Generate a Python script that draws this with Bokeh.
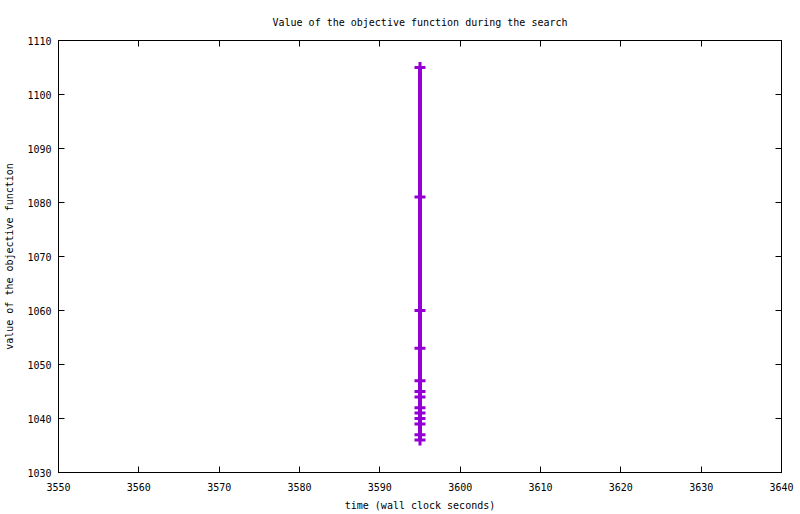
from bokeh.plotting import figure
from bokeh.models import LinearAxis, Range1d, FixedTicker
from bokeh.embed import file_html
from bokeh.resources import INLINE

# data
time_s = [3595, 3595, 3595, 3595, 3595, 3595, 3595, 3595, 3595, 3595, 3595, 3595, 3595]
objective = [1105, 1081, 1060, 1053, 1047, 1045, 1044, 1042, 1041, 1040, 1039, 1037, 1036]
x_ticks = [3550, 3560, 3570, 3580, 3590, 3600, 3610, 3620, 3630, 3640]
y_ticks = [1030, 1040, 1050, 1060, 1070, 1080, 1090, 1100, 1110]

FONT = "DejaVu Sans Mono"
FS = "10px"
COLOR = "#9400D3"

p = figure(width=800, height=514, output_backend="svg", toolbar_location=None,
           x_range=Range1d(3550, 3640), y_range=Range1d(1030, 1110),
           min_border_left=58, min_border_right=19, min_border_top=40, min_border_bottom=42,
           x_axis_label="time (wall clock seconds)",
           y_axis_label="value of the objective function")

p.title.text = "Value of the objective function during the search"
p.title.align = "center"
p.title.text_font = FONT
p.title.text_font_size = FS
p.title.text_font_style = "normal"
p.title.text_color = "black"
p.title.standoff = 25

p.grid.visible = False
p.outline_line_color = "black"
p.outline_line_width = 1
p.background_fill_color = "white"
p.border_fill_color = "white"

p.xaxis.ticker = FixedTicker(ticks=x_ticks)
p.yaxis.ticker = FixedTicker(ticks=y_ticks)

for ax in (p.xaxis[0], p.yaxis[0]):
    ax.major_tick_in = 6
    ax.major_tick_out = 0
    ax.minor_tick_in = 0
    ax.minor_tick_out = 0
    ax.major_label_text_font = FONT
    ax.major_label_text_font_size = FS
    ax.major_label_text_color = "black"
    ax.axis_label_text_font = FONT
    ax.axis_label_text_font_size = FS
    ax.axis_label_text_font_style = "normal"
    ax.axis_label_text_color = "black"
    ax.axis_line_color = "black"
    ax.major_tick_line_color = "black"

p.xaxis.major_label_standoff = 10
p.xaxis.axis_label_standoff = 6
p.yaxis.major_label_standoff = 7
p.yaxis.axis_label_standoff = 9

top = LinearAxis(ticker=FixedTicker(ticks=x_ticks), major_label_text_font_size="0px",
                 major_label_standoff=0, major_tick_in=6, major_tick_out=0,
                 minor_tick_in=0, minor_tick_out=0, axis_line_color="black")
right = LinearAxis(ticker=FixedTicker(ticks=y_ticks), major_label_text_font_size="0px",
                   major_label_standoff=0, major_tick_in=6, major_tick_out=0,
                   minor_tick_in=0, minor_tick_out=0, axis_line_color="black")
p.add_layout(top, "above")
p.add_layout(right, "right")

p.line(time_s, objective, line_color=COLOR, line_width=4)
p.scatter(time_s, objective, marker="cross", size=11, line_color=COLOR, line_width=3)

open("out.html", "w").write(file_html(p, INLINE))
